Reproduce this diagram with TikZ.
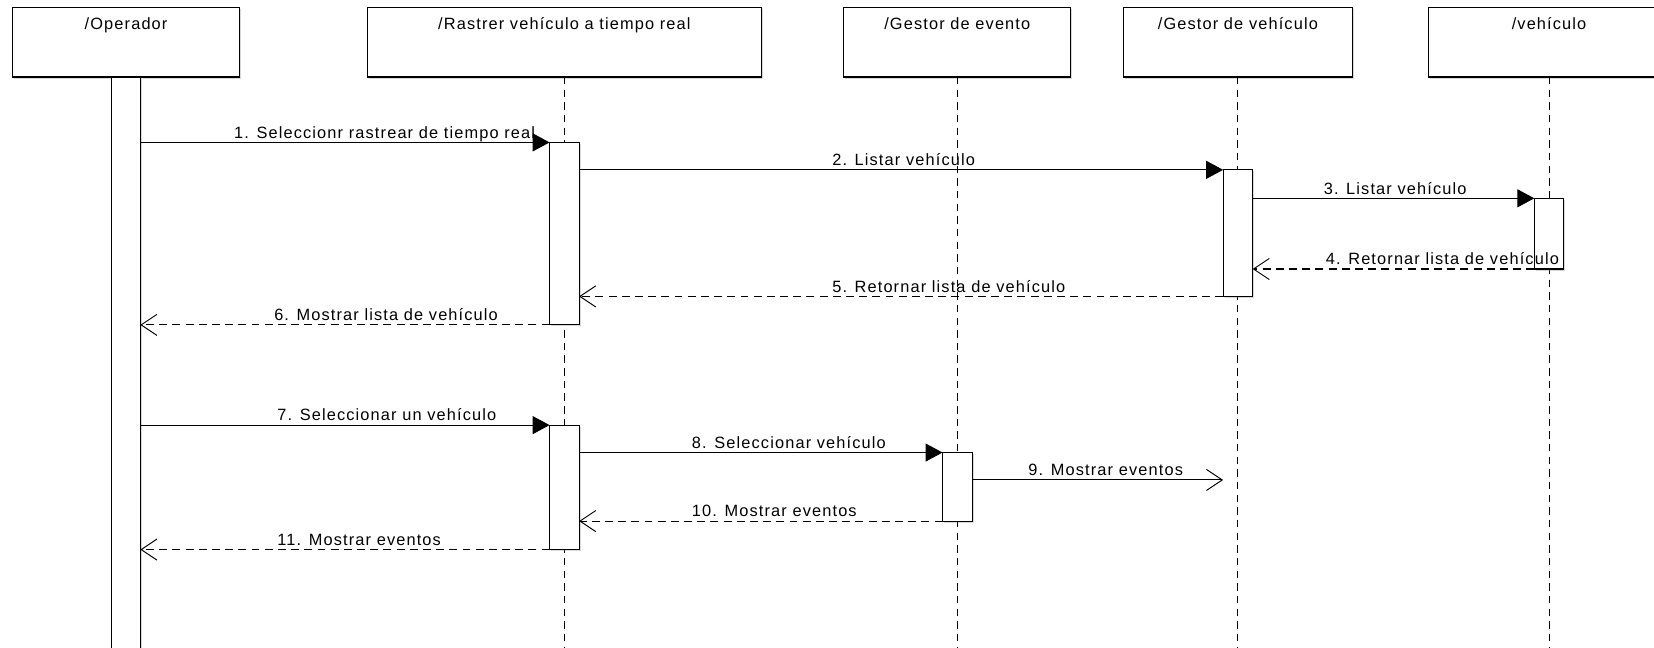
\documentclass[tikz,border=0pt]{standalone}
\usepackage{fontspec}
\setmainfont{Liberation Sans}[LetterSpace=7]
\usetikzlibrary{arrows.meta,shadows}
\begin{document}
\begin{tikzpicture}[x=1pt,y=-1pt,
  every node/.style={font=\fontsize{15.5}{18}\selectfont, inner sep=0pt, outer sep=0pt},
  head/.style={draw, line width=1pt, fill=white, minimum height=66pt, anchor=north west,
    drop shadow={shadow xshift=1.5pt, shadow yshift=-1.5pt, opacity=0.3}},
  title/.style={anchor=base},
  bar/.style={draw, line width=1pt, fill=white, minimum width=28pt, anchor=north,
    drop shadow={shadow xshift=1.5pt, shadow yshift=-1.5pt, opacity=0.3}},
  life/.style={line width=1pt, dash pattern=on 7pt off 5pt},
  lbl/.style={anchor=base west},
  call/.style={line width=1pt, -{Triangle[length=16pt, width=17pt]}},
  ret/.style={line width=1pt, dash pattern=on 7.5pt off 5pt, -{Straight Barb[length=15pt, width=20pt, line width=0.9pt]}},
  async/.style={line width=1pt, -{Straight Barb[length=15pt, width=20pt, line width=0.9pt]}},
]
\useasboundingbox (0,0) rectangle (1568,614);
\fill[white] (0,0) rectangle (1568,614);

% bottom of all lifelines
\coordinate (bot) at (0,616);

% participant heads
\node[head, minimum width=215pt] (op) at (12,7) {};
\node[head, minimum width=374pt] (rr) at (348,7) {};
\node[head, minimum width=215pt] (ge) at (800,7) {};
\node[head, minimum width=217pt] (gv) at (1065,7) {};
\node[head, minimum width=229pt] (ve) at (1354,7) {};

\node[title] (opT) at (op.north |- 0,27.5) {/Operador};
\node[title] (rrT) at (rr.north |- 0,27.5) {/Rastrer vehículo a tiempo real};
\node[title] (geT) at (ge.north |- 0,27.5) {/Gestor de evento};
\node[title] (gvT) at (gv.north |- 0,27.5) {/Gestor de vehículo};
\node[title] (veT) at (ve.north |- 0,27.5) {/vehículo};

% lifelines
\draw[life] (rr.south) -- (rr.south |- bot);
\draw[life] (ge.south) -- (ge.south |- bot);
\draw[life] (gv.south) -- (gv.south |- bot);
\draw[life] (ve.south) -- (ve.south |- bot);

% message rows
\coordinate (y1) at (0,135);
\coordinate (y2) at (0,161);
\coordinate (y3) at (0,188);
\coordinate (y4) at (0,255);
\coordinate (y5) at (0,281);
\coordinate (y6) at (0,308);
\coordinate (y7) at (0,403);
\coordinate (y8) at (0,429);
\coordinate (y9) at (0,455);
\coordinate (y10) at (0,494);
\coordinate (y11) at (0,521);

% activation bars
\node[bar, minimum width=27pt, minimum height=545pt] (opbar) at (op.south) {};
\node[bar, minimum height=173pt] (rb1) at (rr.south |- y1) {};
\node[bar, minimum height=120pt] (gb1) at (gv.south |- y2) {};
\node[bar, minimum height=67pt] (vb1) at (ve.south |- y3) {};
\node[bar, minimum height=118pt] (rb2) at (rr.south |- y7) {};
\node[bar, minimum height=65pt] (eb1) at (ge.south |- y8) {};

\coordinate (m9end) at (gb1.west |- y9);

% messages
\draw[call] (opbar.east |- y1) -- (rb1.north west);
\draw[call] (rb1.east |- y2) -- (gb1.north west);
\draw[call] (gb1.east |- y3) -- (vb1.north west);
\draw[ret] (vb1.south west) -- (gb1.east |- y4);
\draw[ret] (gb1.south west) -- (rb1.east |- y5);
\draw[ret] (rb1.south west) -- (opbar.east |- y6);
\draw[call] (opbar.east |- y7) -- (rb2.north west);
\draw[call] (rb2.east |- y8) -- (eb1.north west);
\draw[async] (eb1.east |- y9) -- (m9end);
\draw[ret] (eb1.south west) -- (rb2.east |- y10);
\draw[ret] (rb2.south west) -- (opbar.east |- y11);

% message labels
\node[lbl] (l1) at (222,131) {1. Seleccionr rastrear de tiempo real};
\node[lbl] (l2) at (789,157) {2. Listar vehículo};
\node[lbl] (l3) at (1255,184) {3. Listar vehículo};
\node[lbl] (l4) at (1257,251) {4. Retornar lista de vehículo};
\node[lbl] (l5) at (789,277) {5. Retornar lista de vehículo};
\node[lbl] (l6) at (260,304) {6. Mostrar lista de vehículo};
\node[lbl] (l7) at (263,399) {7. Seleccionar un vehículo};
\node[lbl] (l8) at (656,425) {8. Seleccionar vehículo};
\node[lbl] (l9) at (975,451) {9. Mostrar eventos};
\node[lbl] (l10) at (656,490) {10. Mostrar eventos};
\node[lbl] (l11) at (263,517) {11. Mostrar eventos};
\end{tikzpicture}
\end{document}
